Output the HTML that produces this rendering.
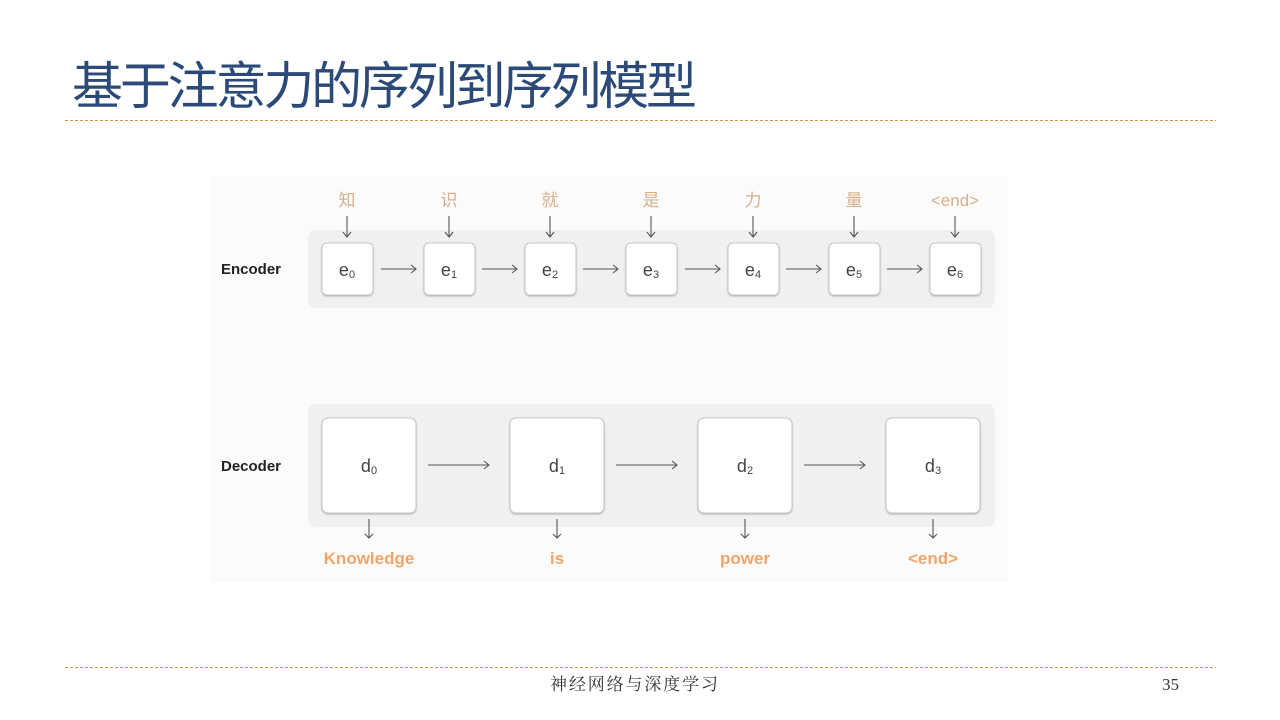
<!DOCTYPE html>
<html><head><meta charset="utf-8"><style>
html,body{margin:0;padding:0;background:#fff;}
svg{display:block;}
</style></head><body>
<svg width="1280" height="720" viewBox="0 0 1280 720" xmlns="http://www.w3.org/2000/svg">
<defs>
<filter id="sh" x="-20%" y="-20%" width="140%" height="140%"><feDropShadow dx="0" dy="1" stdDeviation="0.8" flood-color="#000" flood-opacity="0.25"/></filter>
</defs>
<rect width="1280" height="720" fill="#fff"/>
<text x="72" y="104" font-family="'Liberation Sans','Noto Sans CJK SC',sans-serif" font-size="51" fill="#2c4a78" textLength="625">基于注意力的序列到序列模型</text>
<line x1="65" y1="120.5" x2="1216" y2="120.5" stroke="#d9933f" stroke-width="1" stroke-dasharray="3,2"/>
<line x1="65" y1="667.5" x2="1216" y2="667.5" stroke="#d9933f" stroke-width="1" stroke-dasharray="3,2"/>
<text x="550" y="690" font-family="'Noto Serif CJK SC',serif" font-size="17" fill="#333" textLength="168">神经网络与深度学习</text>
<text x="1162" y="690" font-family="'Liberation Serif',serif" font-size="17" fill="#333">35</text>

<rect x="210" y="177" width="798" height="405" fill="#fbfbfb"/>
<rect x="308" y="230" width="687" height="78" rx="8" fill="#f0f0f3"/>
<rect x="308" y="404" width="687" height="123" rx="8" fill="#f0f0f3"/>
<g font-family="'Liberation Sans',sans-serif" font-weight="bold" font-size="15" fill="#222">
<text x="221" y="274">Encoder</text>
<text x="221" y="471">Decoder</text>
</g>
<g font-family="'Liberation Sans','Noto Sans CJK SC',sans-serif" font-size="17" fill="#d6b08a" text-anchor="middle">
<text x="347" y="206">知</text><text x="449" y="206">识</text><text x="550" y="206">就</text><text x="651" y="206">是</text><text x="753" y="206">力</text><text x="854" y="206">量</text><text x="955" y="206">&lt;end&gt;</text>
</g>
<g stroke="#555" stroke-width="1.1" fill="none">
<path d="M347 216V237M343 232L347 237L351 232"/>
<path d="M449 216V237M445 232L449 237L453 232"/>
<path d="M550 216V237M546 232L550 237L554 232"/>
<path d="M651 216V237M647 232L651 237L655 232"/>
<path d="M753 216V237M749 232L753 237L757 232"/>
<path d="M854 216V237M850 232L854 237L858 232"/>
<path d="M955 216V237M951 232L955 237L959 232"/>
<path d="M381 269H416M411 265L416 269L411 273"/>
<path d="M482 269H517M512 265L517 269L512 273"/>
<path d="M583 269H618M613 265L618 269L613 273"/>
<path d="M685 269H720M715 265L720 269L715 273"/>
<path d="M786 269H821M816 265L821 269L816 273"/>
<path d="M887 269H922M917 265L922 269L917 273"/>
<path d="M428 465H489M484 461L489 465L484 469"/>
<path d="M616 465H677M672 461L677 465L672 469"/>
<path d="M804 465H865M860 461L865 465L860 469"/>
<path d="M369 519V538M365 534L369 538L373 534"/>
<path d="M557 519V538M553 534L557 538L561 534"/>
<path d="M745 519V538M741 534L745 538L749 534"/>
<path d="M933 519V538M929 534L933 538L937 534"/>
</g>
<g fill="#fff" stroke="#c4c4c4" stroke-width="1" filter="url(#sh)">
<rect x="322" y="243" width="51" height="52" rx="5"/>
<rect x="424" y="243" width="51" height="52" rx="5"/>
<rect x="525" y="243" width="51" height="52" rx="5"/>
<rect x="626" y="243" width="51" height="52" rx="5"/>
<rect x="728" y="243" width="51" height="52" rx="5"/>
<rect x="829" y="243" width="51" height="52" rx="5"/>
<rect x="930" y="243" width="51" height="52" rx="5"/>
<rect x="322" y="418" width="94" height="95" rx="6"/>
<rect x="510" y="418" width="94" height="95" rx="6"/>
<rect x="698" y="418" width="94" height="95" rx="6"/>
<rect x="886" y="418" width="94" height="95" rx="6"/>
</g>
<g font-family="'Liberation Sans',sans-serif" font-size="18" fill="#444" text-anchor="middle">
<text x="347" y="276">e<tspan font-size="11" dy="2">0</tspan></text>
<text x="449" y="276">e<tspan font-size="11" dy="2">1</tspan></text>
<text x="550" y="276">e<tspan font-size="11" dy="2">2</tspan></text>
<text x="651" y="276">e<tspan font-size="11" dy="2">3</tspan></text>
<text x="753" y="276">e<tspan font-size="11" dy="2">4</tspan></text>
<text x="854" y="276">e<tspan font-size="11" dy="2">5</tspan></text>
<text x="955" y="276">e<tspan font-size="11" dy="2">6</tspan></text>
<text x="369" y="472">d<tspan font-size="11" dy="2">0</tspan></text>
<text x="557" y="472">d<tspan font-size="11" dy="2">1</tspan></text>
<text x="745" y="472">d<tspan font-size="11" dy="2">2</tspan></text>
<text x="933" y="472">d<tspan font-size="11" dy="2">3</tspan></text>
</g>
<g font-family="'Liberation Sans',sans-serif" font-weight="bold" font-size="17" fill="#f0a56a" text-anchor="middle">
<text x="369" y="564">Knowledge</text>
<text x="557" y="564">is</text>
<text x="745" y="564">power</text>
<text x="933" y="564">&lt;end&gt;</text>
</g>
</svg>
</body></html>
